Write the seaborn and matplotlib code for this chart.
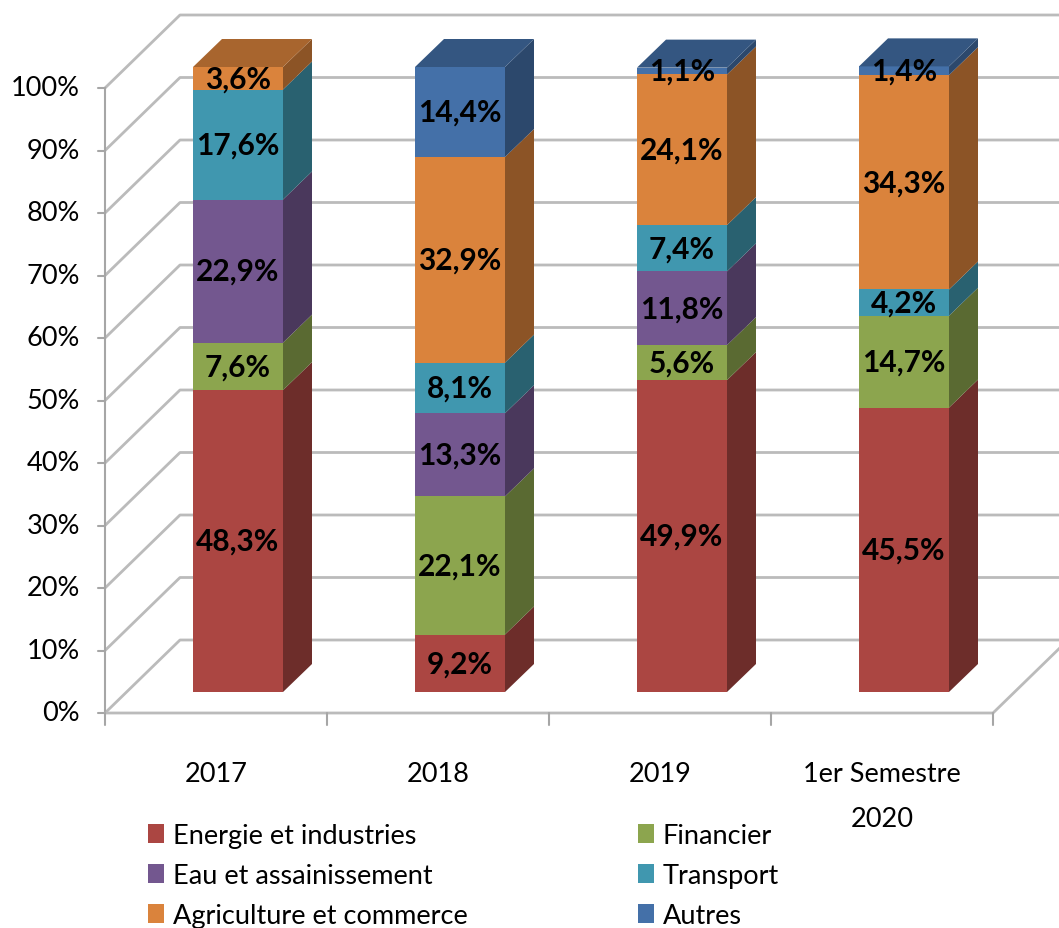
import numpy as np
import pandas as pd
import seaborn as sns
from matplotlib import pyplot as plt
from matplotlib.colors import to_rgb
from matplotlib.patches import Patch

# donnees (en %)
categories = ["2017", "2018", "2019", "1er Semestre\n2020"]
series = ["Energie et industries", "Financier", "Eau et assainissement",
          "Transport", "Agriculture et commerce", "Autres"]
energie = [48.3, 9.2, 49.9, 45.5]
financier = [7.6, 22.1, 5.6, 14.7]
eau = [22.9, 13.3, 11.8, 0.0]
transport = [17.6, 8.1, 7.4, 4.2]
agriculture = [3.6, 32.9, 24.1, 34.3]
autres = [0.0, 14.4, 1.1, 1.4]
colors = ["#AB4642", "#8CA54E", "#73578F", "#4097AF", "#DA833C", "#4470A8"]
yticks = list(range(0, 101, 10))

values = np.array([energie, financier, eau, transport, agriculture, autres])
cum = values.cumsum(axis=0)
bottoms = cum - values

sns.set_style("white")
plt.rcParams['font.family'] = ['Lato', 'DejaVu Sans']
plt.rcParams['text.color'] = 'black'

fig = plt.figure(figsize=(10.59, 9.29), dpi=100)
ax = fig.add_axes([0, 0, 1, 1])

# echelle en pixels : 222 px par categorie, 6.25 px par %
PX, PY = 222.0, 6.25
def off(px_x, px_y):
    return px_x / PX, px_y / PY

W = 90 / PX                  # largeur des barres
dx, dy = off(29, 28)         # profondeur des barres
fx, fy = off(-22, -21)       # plan avant du sol
bx, by = off(75, 73)         # profondeur du mur du fond
n = len(categories)
xl = -0.5 + fx
xr = n - 0.5 + fx
grid_c = "#BBBBBB"

# murs et quadrillage
for p in yticks:
    ax.plot([xl, xl + bx, 6], [p + fy, p + fy + by, p + fy + by],
            color=grid_c, lw=2.0, zorder=0, solid_capstyle="butt")
    ax.plot([xl - 7 / PX, xl], [p + fy, p + fy], color="#A6A6A6", lw=1.5, zorder=1)
    ax.text(xl - 25 / PX, p + fy, f"{p}%", ha="right", va="center", fontsize=19.5)
ax.plot([xl, xl], [fy, 100 + fy], color="#A6A6A6", lw=1.5, zorder=1)
ax.plot([xl, xr, xr + bx], [fy, fy, fy + by], color=grid_c, lw=2.0, zorder=1)
for k in range(0, n + 1):
    ax.plot([xl + k, xl + k], [fy, fy - 12 / PY], color="#A6A6A6", lw=1.5, zorder=1)

# faces avant (barres cumulees, de haut en bas)
df = pd.DataFrame({"categorie": np.repeat(categories, len(series)),
                   "serie": np.tile(series, n),
                   "cumul": cum.T.ravel()})
for s, c in reversed(list(zip(series, colors))):
    d = df[df["serie"] == s]
    sns.barplot(data=d, x="categorie", y="cumul", color=c, saturation=1,
                width=W, errorbar=None, linewidth=0, ax=ax, zorder=2)

# faces laterales et dessus
for i in range(n):
    x1 = i + W / 2
    x0 = i - W / 2
    for j, c in enumerate(colors):
        h = values[j, i]
        if h <= 0:
            continue
        b, t = bottoms[j, i], cum[j, i]
        ax.fill([x1, x1, x1 + dx, x1 + dx], [b, t, t + dy, b + dy],
                color=np.array(to_rgb(c)) * 0.64, lw=0, zorder=2)
        ax.text(i, b + h / 2, f"{h:.1f}".replace(".", ",") + "%", ha="center",
                va="center", fontsize=21.5, fontweight="bold", zorder=5)
    top_j = max(j for j in range(len(series)) if values[j, i] > 0)
    t = cum[top_j, i]
    ax.fill([x0, x1, x1 + dx, x0 + dx], [t, t, t + dy, t + dy],
            color=np.array(to_rgb(colors[top_j])) * 0.77, lw=0, zorder=2)

# etiquettes des categories
for i, cat in enumerate(categories):
    ax.text(i + fx, fy - 48 / PY, cat, ha="center", va="top", fontsize=19.5,
            linespacing=2.0)

ax.set_xlim(-238 / PX, (1059 - 238) / PX)
ax.set_ylim((693 - 929) / PY, 693 / PY)
ax.axis("off")

# legende en deux colonnes
handles = [Patch(facecolor=c, edgecolor="none") for c in colors]
kw = dict(frameon=False, fontsize=19.5, loc="upper left", borderpad=0,
          borderaxespad=0, handlelength=0.6, handleheight=0.68,
          handletextpad=0.32, labelspacing=0.55)
fig.legend([handles[0], handles[2], handles[4]], [series[0], series[2], series[4]],
           bbox_to_anchor=(148 / 1059, 1 - 824 / 929), **kw)
fig.legend([handles[1], handles[3], handles[5]], [series[1], series[3], series[5]],
           bbox_to_anchor=(638 / 1059, 1 - 824 / 929), **kw)

fig.savefig("out.png", dpi=100)
